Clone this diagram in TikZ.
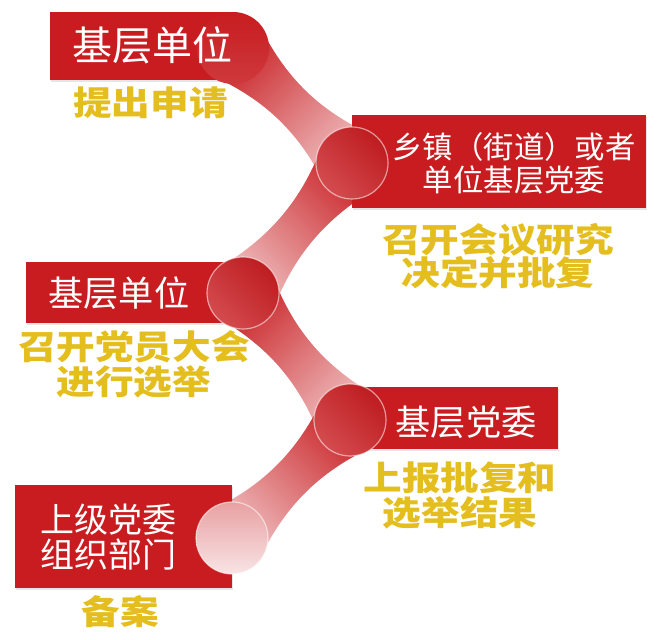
\documentclass[tikz,border=0pt]{standalone}
\usepackage{fontspec}
\setmainfont{Noto Sans CJK SC}
\newfontfamily\widecjk{Noto Sans CJK SC}[FakeStretch=1.15]
\usepackage{tikz}
\usetikzlibrary{calc,shadows}

\definecolor{boxred}{RGB}{200,28,32}
\definecolor{ribred}{RGB}{200,30,34}
\definecolor{goldtxt}{RGB}{228,190,30}

\pgfdeclarelayer{rib}
\pgfsetlayers{rib,main}

\setlength{\lineskiplimit}{-30pt}

\newcommand{\ribr}{18pt}
\newcommand{\ribc}{7.2pt}
% band from joint #1 to joint #2, shading turned by #3
\newcommand{\ribbon}[3]{%
  \path[ribbon, shading angle=#3]
    ($(#1.center)!\ribr!90:(#2.center)$)
    .. controls ($($(#1.center)!0.35!(#2.center)$)!\ribc!90:(#2.center)$)
            and ($($(#1.center)!0.65!(#2.center)$)!\ribc!90:(#2.center)$) ..
    ($(#2.center)!\ribr!-90:(#1.center)$)
    -- ($(#2.center)!\ribr!90:(#1.center)$)
    .. controls ($($(#1.center)!0.65!(#2.center)$)!\ribc!-90:(#2.center)$)
            and ($($(#1.center)!0.35!(#2.center)$)!\ribc!-90:(#2.center)$) ..
    ($(#1.center)!\ribr!-90:(#2.center)$) -- cycle;
}

\begin{document}
\begin{tikzpicture}[
  x=0.5pt, y=-0.5pt,
  box/.style={rectangle, fill=boxred, inner sep=0pt,
    drop shadow={opacity=0.2, shadow xshift=0.6pt, shadow yshift=-1.2pt}},
  joint/.style={circle, minimum size=36pt, inner sep=0pt,
    top color=ribred!95!black, bottom color=ribred!80!white, shading angle=-45,
    draw=white, draw opacity=0.55, line width=0.6pt},
  palejoint/.style={joint, top color=ribred!42!white, bottom color=ribred!12!white},
  ribbon/.style={top color=ribred, bottom color=ribred!25!white, middle color=ribred!62!white},
  boxtext/.style={text=white, align=center, inner sep=0pt},
  note/.style={text=goldtxt, align=center, inner sep=0pt,
    font=\widecjk\bfseries\fontsize{16.8pt}{17.5pt}\selectfont}
]
\useasboundingbox (0,0) rectangle (659,640);

% BOXES
\node[box, minimum width=91.5pt, minimum height=34pt] (b1) at (141.5,46) {};
\node[box, minimum width=147pt, minimum height=46.5pt] (b2) at (499,161.5) {};
\node[box, minimum width=108.5pt, minimum height=30.5pt] (b3) at (134.5,292.5) {};
\node[box, minimum width=104pt, minimum height=31pt] (b4) at (454,418) {};
\node[box, minimum width=108.5pt, minimum height=51.5pt] (b5) at (123.5,536.5) {};

% JOINTS
\node[joint, draw=none, top color=boxred, bottom color=ribred!88!white] (j1) at (233,48) {};
\node[joint] (j2) at (352,163) {};
\node[joint] (j3) at (243,293) {};
\node[joint] (j4) at (350,420) {};
\node[palejoint] (j5) at (232,538) {};

% RIBBON
\begin{pgfonlayer}{rib}
\ribbon{j1}{j2}{45}
\ribbon{j2}{j3}{-45}
\ribbon{j3}{j4}{45}
\ribbon{j4}{j5}{-45}
\end{pgfonlayer}

% STEP 1
\node[boxtext, font=\fontsize{20pt}{22pt}\selectfont] (t1) at (152,45) {基层单位};
\node[note] (n1) at (150.5,103) {提出申请};

% STEP 2
\node[boxtext, font=\fontsize{15.2pt}{16.5pt}\selectfont] (t2) at (514,163) {乡镇（街道）或者\\单位基层党委};
\node[note, font=\widecjk\bfseries\fontsize{16.8pt}{16.5pt}\selectfont] (n2) at (498,256.5) {召开会议研究\\决定并批复};

% STEP 3
\node[boxtext, font=\fontsize{17.6pt}{19pt}\selectfont] (t3) at (119,293) {基层单位};
\node[note] (n3) at (134,364.5) {召开党员大会\\进行选举};

% STEP 4
\node[boxtext, font=\fontsize{17.6pt}{19pt}\selectfont] (t4) at (466,422) {基层党委};
\node[note] (n4) at (460,495.5) {上报批复和\\选举结果};

% STEP 5
\node[boxtext, font=\fontsize{17pt}{17.5pt}\selectfont] (t5) at (108,537.5) {上级党委\\组织部门};
\node[note] (n5) at (120,612) {备案};

\end{tikzpicture}
\end{document}
